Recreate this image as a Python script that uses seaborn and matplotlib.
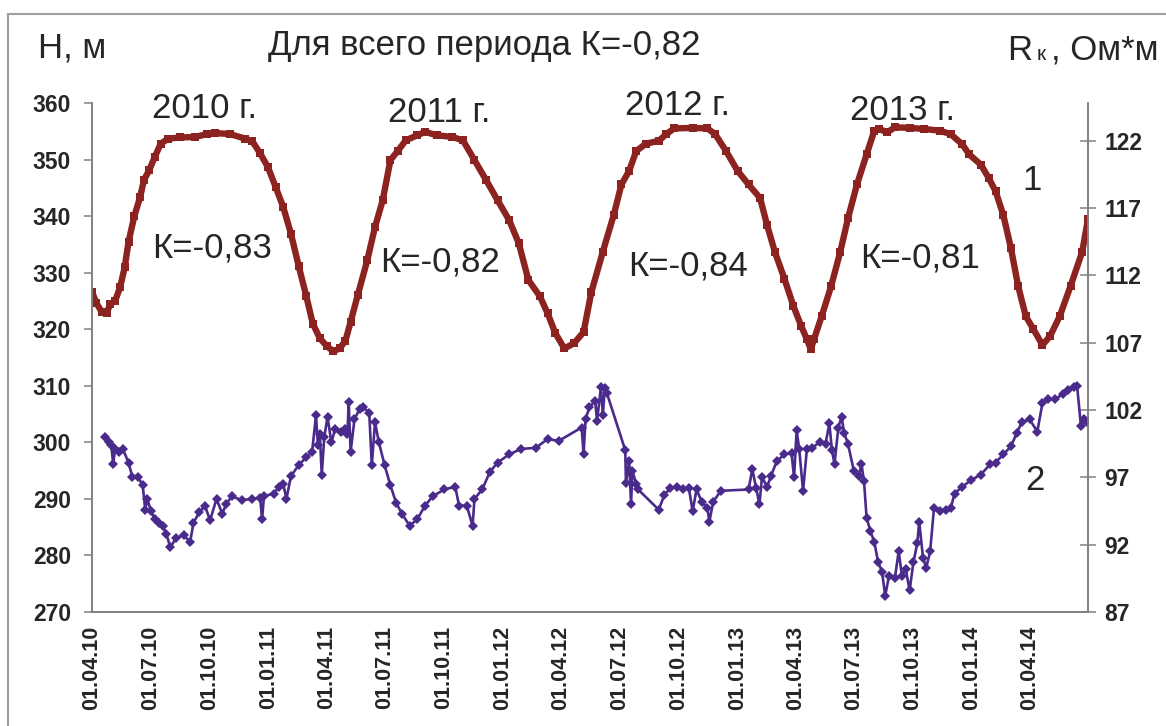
import matplotlib

matplotlib.use("Agg")

import matplotlib.pyplot as plt
import numpy as np
import pandas as pd
import seaborn as sns
from matplotlib.patches import Rectangle


# water level H, m (curve 1)
level_dates = [
    "2010-04-01", "2010-04-08", "2010-04-16", "2010-04-24", "2010-04-29",
    "2010-05-07", "2010-05-15", "2010-05-22", "2010-05-28", "2010-06-06",
    "2010-06-15", "2010-06-21", "2010-06-29", "2010-07-08", "2010-07-17",
    "2010-07-29", "2010-08-16", "2010-09-09", "2010-09-27", "2010-10-09",
    "2010-11-02", "2010-11-26", "2010-12-07", "2010-12-19", "2010-12-31",
    "2011-01-12", "2011-01-24", "2011-02-05", "2011-02-17", "2011-03-01",
    "2011-03-11", "2011-03-22", "2011-04-02", "2011-04-12", "2011-04-22",
    "2011-05-01", "2011-05-09", "2011-05-20", "2011-06-04", "2011-06-16",
    "2011-06-28", "2011-07-10", "2011-07-22", "2011-08-03", "2011-08-21",
    "2011-09-02", "2011-09-20", "2011-10-14", "2011-10-31", "2011-11-18",
    "2011-12-06", "2011-12-24", "2012-01-11", "2012-01-26", "2012-02-10",
    "2012-02-28", "2012-03-11", "2012-03-23", "2012-04-06", "2012-04-21",
    "2012-05-06", "2012-05-18", "2012-06-05", "2012-06-22", "2012-07-04",
    "2012-07-16", "2012-07-27", "2012-08-11", "2012-08-31", "2012-09-12",
    "2012-09-24", "2012-10-23", "2012-11-15", "2012-11-27", "2012-12-14",
    "2013-01-01", "2013-01-18", "2013-02-05", "2013-02-16", "2013-02-28",
    "2013-03-15", "2013-03-29", "2013-04-10", "2013-04-19", "2013-04-25",
    "2013-04-30", "2013-05-12", "2013-05-27", "2013-06-10", "2013-06-22",
    "2013-07-06", "2013-07-21", "2013-08-02", "2013-08-10", "2013-08-22",
    "2013-09-03", "2013-09-26", "2013-10-19", "2013-11-12", "2013-11-29",
    "2013-12-17", "2013-12-28", "2014-01-15", "2014-01-27", "2014-02-07",
    "2014-02-19", "2014-03-03", "2014-03-14", "2014-03-26", "2014-04-07",
    "2014-04-21", "2014-05-03", "2014-05-18", "2014-06-04", "2014-06-22",
    "2014-07-01",
]

level_values = [
    326.6, 324.6, 323.1, 322.8, 324.4,
    325.0, 327.5, 331.0, 335.5, 340.0,
    343.4, 346.4, 348.1, 350.5, 352.8,
    353.7, 353.9, 354.0, 354.5, 354.7,
    354.5, 353.7, 353.2, 351.1, 348.7,
    345.2, 341.6, 336.9, 331.2, 325.8,
    321.0, 318.4, 317.0, 316.1, 316.6,
    318.0, 321.3, 326.0, 332.2, 338.1,
    342.8, 349.9, 351.6, 353.4, 354.3,
    354.9, 354.3, 354.0, 353.4, 349.9,
    346.4, 342.8, 339.3, 335.2, 328.7,
    325.8, 322.8, 319.3, 316.6, 317.5,
    319.5, 326.5, 333.7, 340.2, 345.6,
    348.0, 351.5, 352.8, 353.3, 354.5,
    355.5, 355.6, 355.5, 354.5, 351.5,
    348.0, 345.6, 343.2, 338.4, 333.7,
    328.9, 324.1, 320.6, 318.2, 316.5,
    318.2, 322.3, 327.7, 333.7, 339.6,
    345.6, 350.9, 355.1, 355.4, 354.8,
    355.7, 355.6, 355.4, 355.1, 354.5,
    352.7, 350.9, 349.1, 346.8, 344.4,
    340.2, 334.3, 327.7, 322.3, 320.0,
    317.2, 318.8, 322.3, 327.7, 333.7,
    339.5,
]

# resistivity R k, Ohm*m (curve 2)
resist_dates = [
    "2010-04-22", "2010-04-27", "2010-05-01", "2010-05-04", "2010-05-07",
    "2010-05-13", "2010-05-19", "2010-05-28", "2010-06-03", "2010-06-12",
    "2010-06-19", "2010-06-23", "2010-06-26", "2010-07-02", "2010-07-08",
    "2010-07-14", "2010-07-20", "2010-07-26", "2010-08-01", "2010-08-10",
    "2010-08-22", "2010-09-01", "2010-09-06", "2010-09-15", "2010-09-24",
    "2010-10-02", "2010-10-12", "2010-10-21", "2010-10-27", "2010-11-05",
    "2010-11-20", "2010-12-07", "2010-12-19", "2010-12-22", "2010-12-25",
    "2011-01-09", "2011-01-18", "2011-01-24", "2011-01-29", "2011-02-05",
    "2011-02-17", "2011-03-01", "2011-03-10", "2011-03-16", "2011-03-19",
    "2011-03-22", "2011-03-25", "2011-03-29", "2011-04-03", "2011-04-09",
    "2011-04-15", "2011-04-24", "2011-04-30", "2011-05-04", "2011-05-06",
    "2011-05-09", "2011-05-15", "2011-05-23", "2011-05-29", "2011-06-07",
    "2011-06-11", "2011-06-16", "2011-06-22", "2011-07-01", "2011-07-10",
    "2011-07-19", "2011-07-28", "2011-08-09", "2011-08-21", "2011-09-02",
    "2011-09-14", "2011-10-02", "2011-10-19", "2011-10-25", "2011-11-06",
    "2011-11-15", "2011-11-18", "2011-11-30", "2011-12-12", "2011-12-24",
    "2012-01-11", "2012-01-29", "2012-02-22", "2012-03-11", "2012-03-28",
    "2012-05-03", "2012-05-06", "2012-05-09", "2012-05-15", "2012-05-24",
    "2012-05-27", "2012-06-02", "2012-06-05", "2012-06-08", "2012-06-11",
    "2012-07-10", "2012-07-11", "2012-07-16", "2012-07-19", "2012-07-21",
    "2012-07-27", "2012-07-30", "2012-08-31", "2012-09-09", "2012-09-18",
    "2012-09-29", "2012-10-08", "2012-10-17", "2012-10-23", "2012-10-29",
    "2012-11-06", "2012-11-15", "2012-11-18", "2012-11-24", "2012-12-06",
    "2013-01-18", "2013-01-24", "2013-01-30", "2013-02-04", "2013-02-08",
    "2013-02-16", "2013-02-22", "2013-03-03", "2013-03-15", "2013-03-26",
    "2013-03-30", "2013-04-03", "2013-04-07", "2013-04-13", "2013-04-19",
    "2013-04-27", "2013-05-09", "2013-05-18", "2013-05-24", "2013-05-28",
    "2013-06-01", "2013-06-07", "2013-06-12", "2013-06-16", "2013-06-22",
    "2013-07-01", "2013-07-09", "2013-07-13", "2013-07-17", "2013-07-21",
    "2013-07-27", "2013-08-02", "2013-08-08", "2013-08-14", "2013-08-19",
    "2013-08-25", "2013-09-03", "2013-09-09", "2013-09-14", "2013-09-20",
    "2013-09-26", "2013-10-02", "2013-10-08", "2013-10-11", "2013-10-17",
    "2013-10-22", "2013-10-28", "2013-11-03", "2013-11-12", "2013-11-21",
    "2013-11-29", "2013-12-05", "2013-12-17", "2013-12-31", "2014-01-15",
    "2014-01-30", "2014-02-07", "2014-02-19", "2014-03-03", "2014-03-12",
    "2014-03-20", "2014-04-01", "2014-04-13", "2014-04-21", "2014-04-30",
    "2014-05-11", "2014-05-23", "2014-05-31", "2014-06-09", "2014-06-14",
    "2014-06-20", "2014-06-24", "2014-06-30",
]

resist_values = [
    100.0, 99.6, 99.4, 98.0, 99.1,
    98.9, 99.1, 98.1, 97.0, 97.0,
    96.4, 94.6, 95.4, 94.5, 93.9,
    93.6, 93.4, 92.8, 91.8, 92.5,
    92.7, 92.2, 93.6, 94.4, 94.9,
    93.8, 95.4, 94.3, 95.0, 95.6,
    95.3, 95.4, 95.5, 93.9, 95.6,
    95.8, 96.3, 96.5, 95.4, 97.1,
    97.9, 98.5, 98.9, 101.6, 99.4,
    100.2, 97.2, 100.0, 101.5, 99.6,
    100.6, 100.4, 100.6, 100.2, 102.6,
    98.9, 101.3, 102.1, 102.2, 101.8,
    97.9, 101.1, 99.6, 97.9, 96.4,
    95.1, 94.3, 93.4, 93.9, 94.9,
    95.6, 96.1, 96.3, 94.9, 94.9,
    93.4, 95.4, 96.1, 97.4, 98.1,
    98.7, 99.1, 99.2, 99.85, 99.7,
    100.7, 98.7, 101.3, 102.2, 102.7,
    101.2, 103.7, 101.6, 103.6, 103.3,
    99.0, 96.6, 98.2, 95.0, 97.5,
    96.5, 96.1, 94.6, 95.7, 96.2,
    96.3, 96.1, 96.2, 94.5, 96.1,
    95.2, 94.7, 93.7, 95.2, 96.0,
    96.1, 97.6, 96.2, 95.0, 97.0,
    96.3, 97.1, 98.2, 98.7, 98.8,
    97.0, 100.5, 99.1, 96.0, 99.1,
    99.2, 99.6, 99.5, 101.0, 99.0,
    98.0, 100.7, 101.5, 100.3, 99.5,
    97.5, 97.1, 98.0, 96.7, 94.0,
    93.0, 92.2, 90.7, 90.0, 88.2,
    89.7, 89.5, 91.5, 89.7, 90.2,
    88.6, 90.7, 92.1, 93.7, 91.0,
    90.3, 91.5, 94.7, 94.5, 94.6,
    94.7, 95.8, 96.3, 96.8, 97.2,
    98.0, 98.1, 98.7, 99.3, 100.3,
    101.1, 101.3, 100.4, 102.5, 102.8,
    102.8, 103.2, 103.5, 103.7, 103.8,
    100.8, 101.3, 101.1,
]

tick_dates = [
    "2010-04-01", "2010-07-01", "2010-10-01", "2011-01-01",
    "2011-04-01", "2011-07-01", "2011-10-01", "2012-01-01",
    "2012-04-01", "2012-07-01", "2012-10-01", "2013-01-01",
    "2013-04-01", "2013-07-01", "2013-10-01", "2014-01-01",
    "2014-04-01", "2014-07-01",
]

left_ticks = [270, 280, 290, 300, 310, 320, 330, 340, 350, 360]
right_ticks = [87, 92, 97, 102, 107, 112, 117, 122]

year_labels = ["2010 г.", "2011 г.", "2012 г.", "2013 г."]
k_labels = ["К=-0,83", "К=-0,82", "К=-0,84", "К=-0,81"]

LEVEL_COLOR = "#8c2320"
RESIST_COLOR = "#4a2a8a"
AXIS_COLOR = "#808080"
W, H = 1166, 726
BIG = 25


def fx(px):
    return px / W


def fy(py):
    return 1 - py / H


sns.set_style("white")
plt.rcParams["font.family"] = ["Liberation Sans", "DejaVu Sans"]

figure = plt.figure(
    figsize=(W / 100, H / 100),
    dpi=100,
)

axis = figure.add_axes(
    [fx(92), fy(612), fx(1088 - 92), (612 - 103) / H],
)
axis_right = axis.twinx()

level = pd.DataFrame(
    {
        "date": pd.to_datetime(level_dates),
        "H": level_values,
    }
)
resist = pd.DataFrame(
    {
        "date": pd.to_datetime(resist_dates),
        "R": resist_values,
    }
)

sns.lineplot(
    data=level,
    x="date",
    y="H",
    ax=axis,
    color=LEVEL_COLOR,
    linewidth=4.6,
    marker="s",
    markersize=6,
    markeredgewidth=0,
    legend=False,
)

sns.lineplot(
    data=resist,
    x="date",
    y="R",
    ax=axis_right,
    color=RESIST_COLOR,
    linewidth=1.9,
    marker="D",
    markersize=5,
    markeredgewidth=0,
    legend=False,
)

ticks = pd.to_datetime(tick_dates)
tick_text = [t.strftime("%d.%m.%y") for t in ticks[:-1]] + [""]

axis.set_xlim(ticks[0], ticks[-1])
axis.set_xticks(ticks)
axis.set_xticklabels(
    tick_text,
    rotation=90,
    fontsize=15.5,
    fontweight="bold",
)

axis.set_ylim(270, 360)
axis.set_yticks(left_ticks)
axis.set_yticklabels(
    [str(v) for v in left_ticks],
    fontsize=16.5,
    fontweight="bold",
)

axis_right.set_ylim(87, 124.8)
axis_right.set_yticks(right_ticks)
axis_right.set_yticklabels(
    [str(v) for v in right_ticks],
    fontsize=16.5,
    fontweight="bold",
)

for ax in (axis, axis_right):
    ax.set_xlabel("")
    ax.set_ylabel("")
    ax.grid(False)
    ax.spines["top"].set_visible(False)
    for name in ("left", "right", "bottom"):
        ax.spines[name].set_color(AXIS_COLOR)
        ax.spines[name].set_linewidth(1.2)

axis.tick_params(
    axis="x",
    direction="out",
    length=6,
    width=1.1,
    color=AXIS_COLOR,
    pad=4,
)
axis.tick_params(
    axis="y",
    direction="out",
    length=6,
    width=1.1,
    color=AXIS_COLOR,
    pad=9,
)
axis_right.tick_params(
    axis="y",
    direction="inout",
    length=12,
    width=1.1,
    color=AXIS_COLOR,
    pad=6,
)

# header texts
figure.text(fx(38), fy(57), "Н, м", fontsize=BIG, va="baseline")
figure.text(
    fx(268), fy(55), "Для всего периода К=-0,82", fontsize=BIG, va="baseline"
)
figure.text(fx(1007), fy(60), "R", fontsize=BIG, va="baseline")
figure.text(fx(1037), fy(60), "к", fontsize=15, va="baseline")
figure.text(fx(1051), fy(60), ", Ом*м", fontsize=BIG, va="baseline")

year_pos = [(152, 118), (388, 122), (625, 115), (850, 120)]
for text, (px, py) in zip(year_labels, year_pos):
    figure.text(fx(px), fy(py), text, fontsize=BIG, va="baseline")

k_pos = [(152, 257), (380, 272), (628, 275), (860, 268)]
for text, (px, py) in zip(k_labels, k_pos):
    figure.text(fx(px), fy(py), text, fontsize=BIG, va="baseline")

figure.text(fx(1022), fy(190), "1", fontsize=BIG, va="baseline")
figure.text(fx(1025), fy(490), "2", fontsize=BIG, va="baseline")

figure.add_artist(
    Rectangle(
        (fx(8), -0.05),
        1.2,
        fy(14) + 0.05,
        transform=figure.transFigure,
        fill=False,
        edgecolor="#a0a0a0",
        linewidth=1.5,
    )
)

figure.savefig("out.png", dpi=100)
